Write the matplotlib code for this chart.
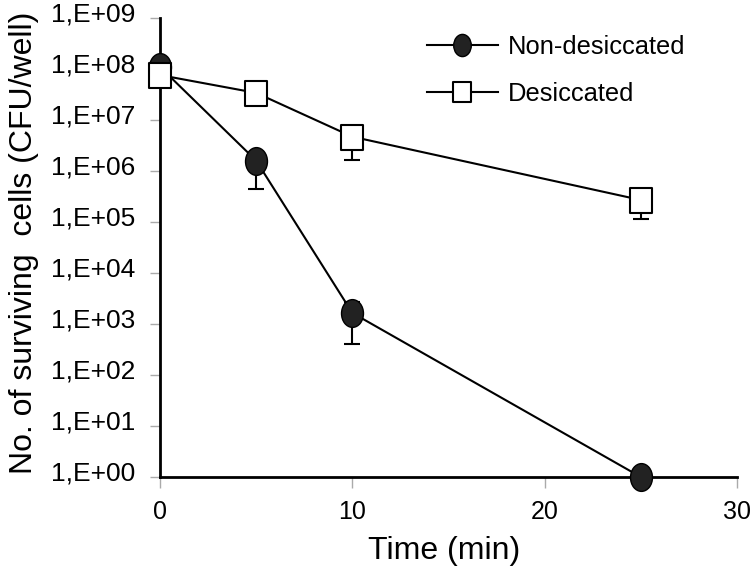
import numpy as np
import matplotlib
matplotlib.use("Agg")
from matplotlib import pyplot as plt
from matplotlib.path import Path
from matplotlib.transforms import Affine2D, ScaledTranslation

plt.rcParams['font.family'] = ['Liberation Sans', 'DejaVu Sans']

# data
time = [0, 5, 10, 25]
non_desic = [1.1e8, 1.6e6, 1.65e3, 1.0]
non_lo = [0, 1.15e6, 1.25e3, 0]
non_hi = [0, 0.7e6, 1.05e3, 0]

time_d = [0, 5, 10, 25]
desic = [7.6e7, 3.4e7, 4.7e6, 2.7e5]
desic_lo = [0, 0, 3.05e6, 1.55e5]
desic_hi = [0, 0, 0, 0]

yticks = [1e0, 1e1, 1e2, 1e3, 1e4, 1e5, 1e6, 1e7, 1e8, 1e9]
ytick_labels = ['1,E+00', '1,E+01', '1,E+02', '1,E+03', '1,E+04',
                '1,E+05', '1,E+06', '1,E+07', '1,E+08', '1,E+09']
xticks = [0, 10, 20, 30]

# slightly tall ellipse / box markers like in the original
ell = Path.unit_circle().transformed(Affine2D().scale(0.79, 1.0))
box = Path([(-0.88, -1), (0.88, -1), (0.88, 1), (-0.88, 1), (-0.88, -1)],
           [Path.MOVETO, Path.LINETO, Path.LINETO, Path.LINETO, Path.CLOSEPOLY])

fig = plt.figure(figsize=(7.5, 5.73), dpi=100)
ax = fig.add_axes([0.2133, 0.1675, 0.7694, 0.8011])

# error bars first (no markers), then lines+markers on top
ax.errorbar(time, non_desic, yerr=[non_lo, non_hi], fmt='none', ecolor='black',
            capsize=6, elinewidth=1.5, capthick=1.5, zorder=2)
ax.errorbar(time_d, desic, yerr=[desic_lo, desic_hi], fmt='none', ecolor='black',
            capsize=6, elinewidth=1.5, capthick=1.5, zorder=2)
ax.plot(time, non_desic, color='black', lw=1.5, marker=ell, ms=20,
        mfc='#222222', mec='black', mew=1, label='Non-desiccated', zorder=3)
ax.plot(time_d, desic, color='black', lw=1.5, marker=box, ms=18,
        mfc='white', mec='black', mew=1.5, label='Desiccated', zorder=4)

ax.set_yscale('log')
ax.set_ylim(1e0, 1e9)
ax.set_xlim(0, 30)
ax.set_yticks(yticks)
ax.set_yticklabels(ytick_labels)
ax.set_xticks(xticks)
ax.minorticks_off()
ax.tick_params(axis='both', width=1, color='#aaaaaa')
ax.tick_params(axis='y', labelsize=19, length=7, pad=10.5)
ax.tick_params(axis='x', labelsize=18, length=8, pad=8.5)

# excel style: y labels sit a bit above their ticks
for lab in ax.get_yticklabels():
    lab.set_transform(lab.get_transform() + ScaledTranslation(0, 4.3 / 72, fig.dpi_scale_trans))

for s in ['top', 'right']:
    ax.spines[s].set_visible(False)
for s in ['left', 'bottom']:
    ax.spines[s].set_linewidth(2)
for ln in ax.lines:
    ln.set_clip_on(False)
for c in ax.collections:
    c.set_clip_on(False)

ax.set_xlabel('Time (min)', fontsize=23)
ax.set_ylabel('No. of surviving  cells (CFU/well)', fontsize=23)
ax.xaxis.set_label_coords(0.492, -0.1285)
ax.yaxis.set_label_coords(-0.2097, 0.511)

leg = ax.legend(loc='upper left', bbox_to_anchor=(0.4627, 0.962), frameon=False,
                fontsize=18.4, markerscale=0.8, handlelength=2.77, handletextpad=0.39,
                labelspacing=0.87, borderaxespad=0, borderpad=0)

fig.savefig('out.png', dpi=100)
